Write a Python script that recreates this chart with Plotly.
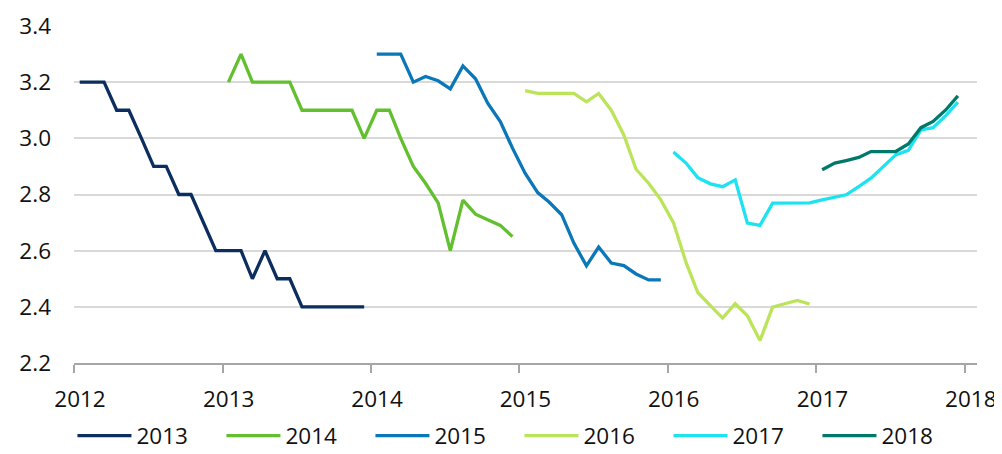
import pandas as pd
import plotly.graph_objects as go

# Series labels (forecast target year)
series_names = ["2013", "2014", "2015", "2016", "2017", "2018"]

# first month of each series
series_start = ["2012-01", "2013-01", "2014-01", "2015-01", "2016-01", "2017-01"]

v2013 = [3.2, 3.2, 3.2, 3.1, 3.1, 3.0, 2.9, 2.9, 2.8, 2.8, 2.7, 2.6,
         2.6, 2.6, 2.5, 2.6, 2.5, 2.5, 2.4, 2.4, 2.4, 2.4, 2.4, 2.4]
v2014 = [3.2, 3.3, 3.2, 3.2, 3.2, 3.2, 3.1, 3.1, 3.1, 3.1, 3.1, 3.0,
         3.1, 3.1, 3.0, 2.9, 2.84, 2.77, 2.6, 2.78, 2.73, 2.71, 2.69, 2.65]
v2015 = [3.3, 3.3, 3.3, 3.2, 3.22, 3.205, 3.176, 3.258, 3.212, 3.125, 3.06, 2.965,
         2.876, 2.807, 2.773, 2.728, 2.627, 2.546, 2.613, 2.556, 2.547, 2.517, 2.496, 2.496]
v2016 = [3.17, 3.16, 3.16, 3.16, 3.16, 3.13, 3.16, 3.10, 3.012, 2.89, 2.84, 2.781,
         2.70, 2.558, 2.451, 2.404, 2.36, 2.411, 2.368, 2.28, 2.399, 2.411, 2.423, 2.41]
v2017 = [2.951, 2.912, 2.86, 2.838, 2.828, 2.852, 2.698, 2.69, 2.769, 2.77, 2.77, 2.77,
         2.781, 2.79, 2.799, 2.828, 2.858, 2.90, 2.941, 2.957, 3.03, 3.038, 3.081, 3.129]
v2018 = [2.888, 2.912, 2.921, 2.932, 2.953, 2.953, 2.953, 2.98, 3.038, 3.06, 3.101, 3.151]

series_values = [v2013, v2014, v2015, v2016, v2017, v2018]
colors = ["#0B2D5F", "#62C02F", "#0A77B8", "#BCE45A", "#1DE2F0", "#00796B"]

year_ticks = [2012, 2013, 2014, 2015, 2016, 2017, 2018]

fig = go.Figure()
for name, start, vals, col in zip(series_names, series_start, series_values, colors):
    months = pd.date_range(start + "-01", periods=len(vals), freq="MS") + pd.Timedelta(days=14)
    fig.add_trace(go.Scatter(
        x=months, y=vals, name=name, mode="lines",
        line=dict(color=col, width=3.3),
    ))

# page body has an 8px default margin, so the figure is sized/offset accordingly
fig.update_layout(
    width=994, height=446, autosize=False,
    margin=dict(l=65.5, r=25.3, t=18, b=90.7, autoexpand=False),
    paper_bgcolor="white", plot_bgcolor="white",
    font=dict(family="Open Sans", size=22.5, color="#111111"),
    showlegend=True,
    legend=dict(
        orientation="h", x=0.4933, xanchor="center",
        yref="container", y=0.0404, yanchor="middle",
        entrywidth=80, entrywidthmode="pixels", itemwidth=54,
        font=dict(size=22.5), bgcolor="rgba(0,0,0,0)", traceorder="normal",
    ),
)
fig.update_xaxes(
    type="date",
    range=["2012-01-01", "2018-01-31"],
    tickvals=[f"{y}-01-01" for y in year_ticks],
    ticktext=[str(y) for y in year_ticks],
    showgrid=False, zeroline=False,
    showline=True, linecolor="#A6A6A6", linewidth=1.5,
    ticks="outside", ticklen=8, tickcolor="#A6A6A6", tickwidth=1.5,
    ticklabelshift=6, ticklabelstandoff=7, automargin=False,
)
fig.update_yaxes(
    range=[2.2, 3.4], dtick=0.2, tick0=2.2, tickformat=".1f",
    showgrid=True, gridcolor="#D9D9D9", gridwidth=1.5,
    zeroline=False, showline=False, ticks="",
    ticklabelstandoff=22, automargin=False,
)

fig.write_html("out.html")
